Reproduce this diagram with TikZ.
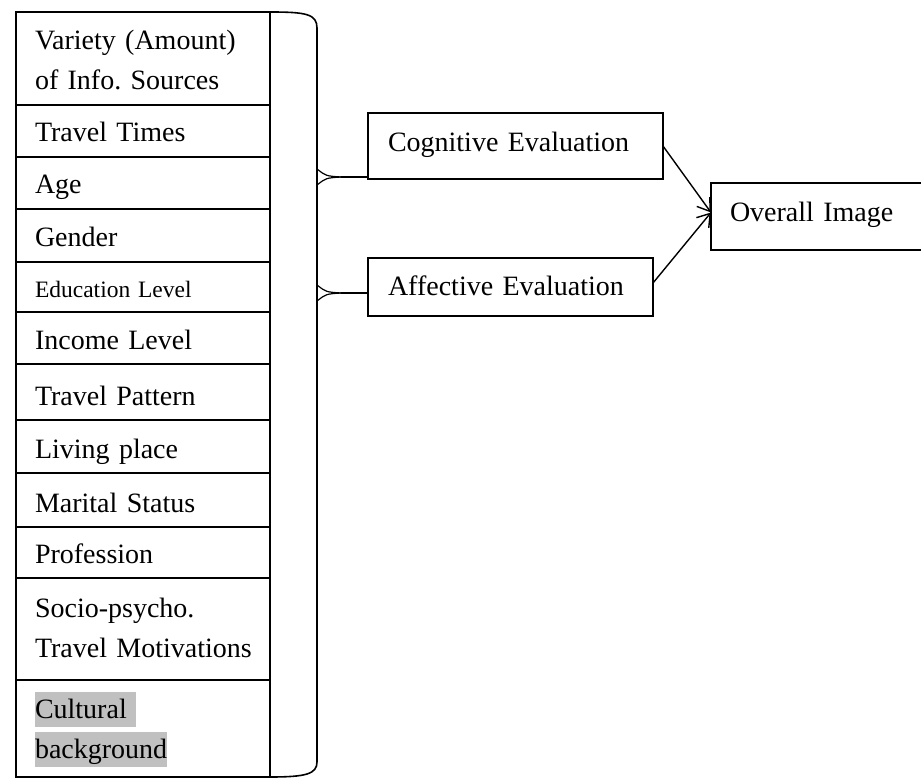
\documentclass[tikz,border=0pt]{standalone}
\usepackage{fontspec}
\setmainfont{Liberation Serif}
\usetikzlibrary{arrows.meta, positioning}
\definecolor{hlgray}{RGB}{192, 192, 192}
\newcommand{\rowfont}{\fontsize{28}{40}\selectfont\frenchspacing}
\newcommand{\smallrowfont}{\fontsize{23.5}{30}\selectfont}
\newcommand{\hlbox}[1]{{\setlength{\fboxsep}{0pt}\colorbox{hlgray}{\rule[-9pt]{0pt}{35pt}#1}}}

\begin{document}
\begin{tikzpicture}[x=1pt, y=-1pt, line width=1.6pt,
  row/.style={draw, anchor=north west, outer sep=0pt, minimum width=254pt, text width=216pt, align=left, inner xsep=19pt, inner ysep=0pt, text depth=15pt, font=\rowfont},
  evalbox/.style={draw, anchor=north west, outer sep=0pt, inner xsep=20pt, inner ysep=0pt, align=left, font=\rowfont},
  fork/.style={line width=1.2pt},
  link/.style={-{Straight Barb[length=12pt, width=16pt]}, line width=1.4pt}]
  \useasboundingbox (0,0) rectangle (921,778);

  % Factor column
  \node[row, text height=38pt, text depth=55pt] (r1) at (16,12) {Variety (Amount)\\of Info. Sources};
  \node[row, text height=37pt] (r2) at (r1.south west) {Travel Times};
  \node[row, text height=37pt] (r3) at (r2.south west) {Age};
  \node[row, text height=38pt] (r4) at (r3.south west) {Gender};
  \node[row, text height=35pt, font=\smallrowfont] (r5) at (r4.south west) {Education Level};
  \node[row, text height=37pt] (r6) at (r5.south west) {Income Level};
  \node[row, text height=41pt] (r7) at (r6.south west) {Travel Pattern};
  \node[row, text height=38pt] (r8) at (r7.south west) {Living place};
  \node[row, text height=39pt] (r9) at (r8.south west) {Marital Status};
  \node[row, text height=36pt] (r10) at (r9.south west) {Profession};
  \node[row, text height=39pt, text depth=63pt] (r11) at (r10.south west) {Socio-psycho.\\\mbox{Travel Motivations}};
  \node[row, text height=38pt, text depth=59pt] (r12) at (r11.south west) {\hlbox{Cultural\ }\\\hlbox{background}};

  % Evaluation boxes
  \node[evalbox, text height=39pt, text depth=27pt, text width=255pt, minimum width=295pt] (cog) at (368,113) {Cognitive Evaluation};
  \node[evalbox, text height=37pt, text depth=21pt, text width=245pt, minimum width=285pt] (aff) at (368,258) {Affective Evaluation};
  \node[evalbox, inner xsep=19pt, text height=39pt, text depth=28pt, text width=200pt] (over) at (711,183) {Overall Image};

  % Brace
  \draw (r1.north east) .. controls (306,12) and (317,14) .. (317,28) -- (317,762)
    .. controls (317,774) and (306,777) .. (r12.south east);

  % Forks to the evaluations
  \coordinate (cogfork) at (341,177);
  \coordinate (afffork) at (341,293);
  \draw[fork] (317,169) .. controls (326,176) .. (cogfork);
  \draw[fork] (317,185) .. controls (326,178) .. (cogfork);
  \draw (cogfork) -- (cogfork -| cog.west);
  \draw[fork] (317,285) .. controls (326,292) .. (afffork);
  \draw[fork] (317,301) .. controls (326,294) .. (afffork);
  \draw (afffork) -- (afffork -| aff.west);

  % Arrows
  \draw[link] (cog.east) -- ([yshift=4pt]over.west);
  \draw[link] ([yshift=4pt]aff.east) -- ([yshift=4pt]over.west);
\end{tikzpicture}
\end{document}
